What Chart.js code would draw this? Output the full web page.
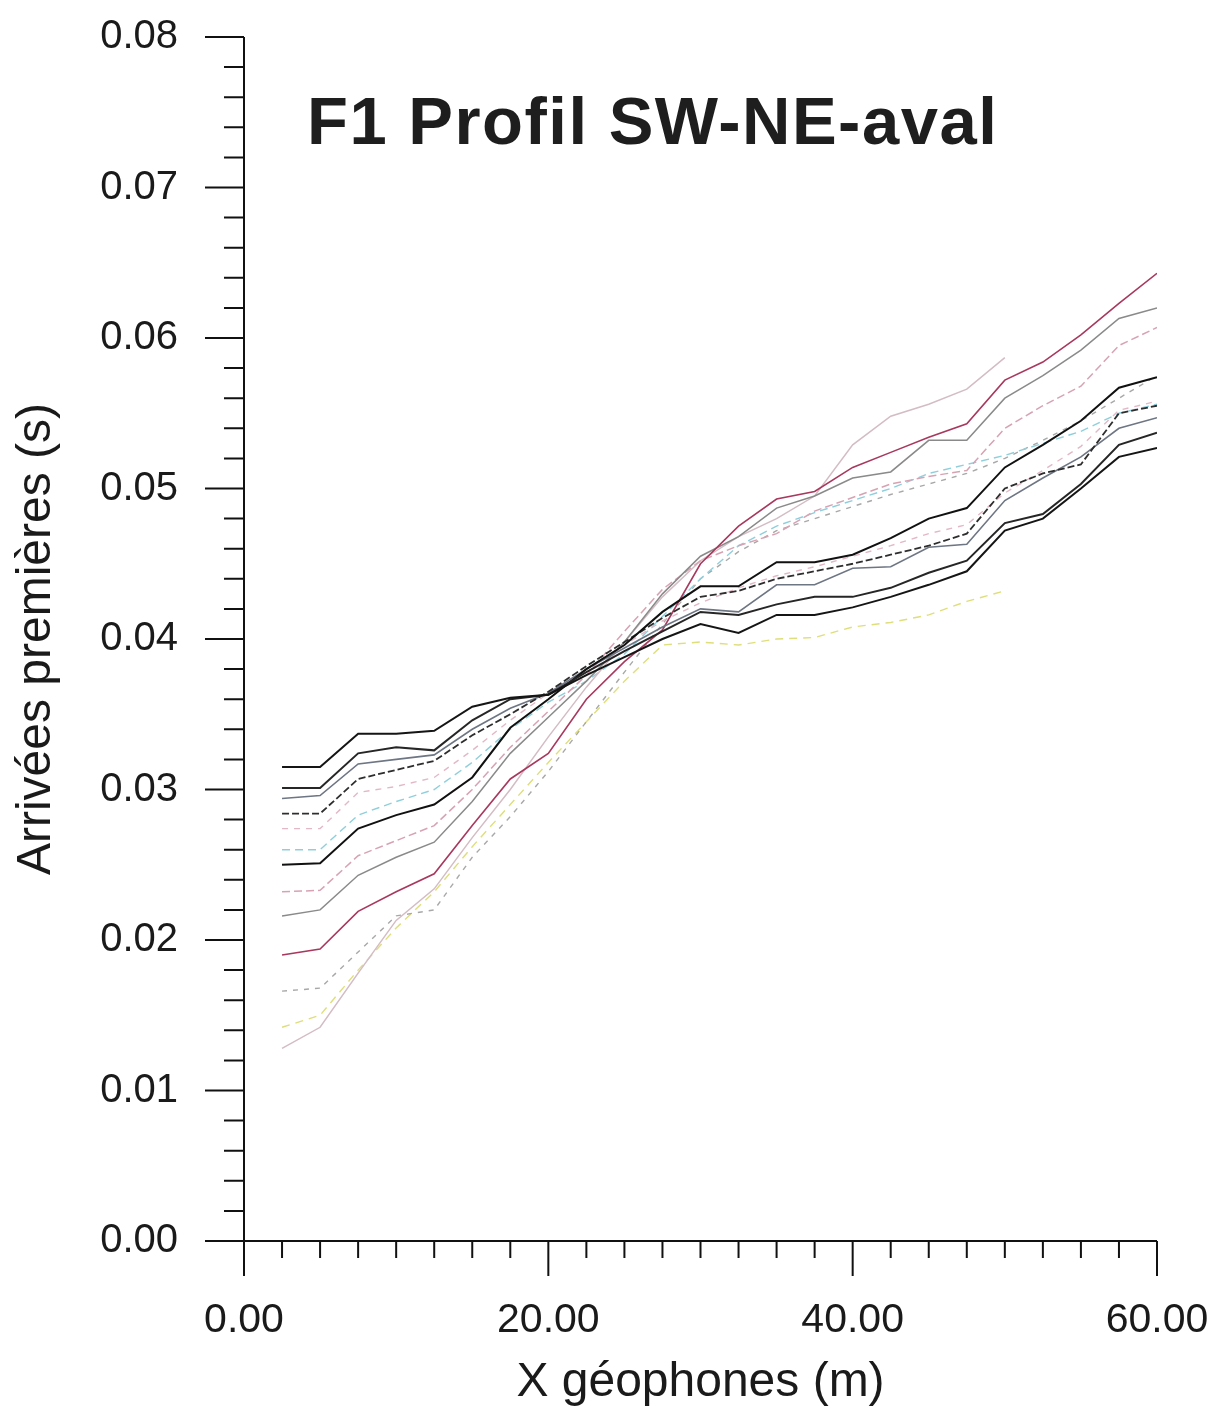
<!DOCTYPE html>
<html>
<head>
<meta charset="utf-8">
<script src="https://cdn.jsdelivr.net/npm/chart.js@4.4.1/dist/chart.umd.min.js"></script>
<style>
  html, body { margin: 0; padding: 0; background: #fff; }
  canvas { display: block; }
</style>
</head>
<body>
<canvas id="chart" width="1221" height="1414"></canvas>
<script>
// geophone positions (m)
const geophones = [2.5, 5, 7.5, 10, 12.5, 15, 17.5, 20, 22.5, 25, 27.5, 30,
                   32.5, 35, 37.5, 40, 42.5, 45, 47.5, 50, 52.5, 55, 57.5, 60];

// first arrival times (s), one array per shot
const shotA = [0.0315, 0.0315, 0.0337, 0.0337, 0.0339, 0.0355, 0.0361, 0.0363, 0.0376, 0.0388, 0.0400, 0.0410,
               0.0404, 0.0416, 0.0416, 0.0421, 0.0428, 0.0436, 0.0445, 0.0472, 0.0480, 0.0500, 0.0521, 0.0527];
const shotB = [0.0301, 0.0301, 0.0324, 0.0328, 0.0326, 0.0346, 0.0360, 0.0363, 0.0378, 0.0392, 0.0405, 0.0418,
               0.0416, 0.0423, 0.0428, 0.0428, 0.0434, 0.0444, 0.0452, 0.0477, 0.0483, 0.0503, 0.0529, 0.0537];
const shotC = [0.0294, 0.0296, 0.0317, 0.0320, 0.0323, 0.0340, 0.0354, 0.0364, 0.0380, 0.0394, 0.0408, 0.0420,
               0.0418, 0.0436, 0.0436, 0.0447, 0.0448, 0.0461, 0.0463, 0.0492, 0.0507, 0.0521, 0.0540, 0.0547];
const shotD = [0.0284, 0.0284, 0.0307, 0.0313, 0.0319, 0.0336, 0.0350, 0.0365, 0.0382, 0.0398, 0.0414, 0.0428,
               0.0432, 0.0440, 0.0445, 0.0450, 0.0456, 0.0462, 0.0470, 0.0500, 0.0510, 0.0516, 0.0550, 0.0555];
const shotE = [0.0250, 0.0251, 0.0274, 0.0283, 0.0290, 0.0308, 0.0341, 0.0360, 0.0380, 0.0396, 0.0418, 0.0435,
               0.0435, 0.0451, 0.0451, 0.0456, 0.0467, 0.0480, 0.0487, 0.0514, 0.0529, 0.0545, 0.0567, 0.0574];
const shotF = [0.0190, 0.0194, 0.0219, 0.0232, 0.0244, 0.0276, 0.0307, 0.0324, 0.0360, 0.0385, 0.0406, 0.0450,
               0.0475, 0.0493, 0.0498, 0.0514, 0.0524, 0.0534, 0.0543, 0.0572, 0.0584, 0.0602, 0.0623, 0.0643];
const shotG = [0.0216, 0.0220, 0.0243, 0.0255, 0.0265, 0.0292, 0.0324, 0.0348, 0.0372, 0.0398, 0.0430, 0.0455,
               0.0468, 0.0487, 0.0495, 0.0507, 0.0511, 0.0532, 0.0532, 0.0560, 0.0575, 0.0592, 0.0613, 0.0620];
const shotH = [0.0232, 0.0233, 0.0256, 0.0266, 0.0276, 0.0300, 0.0328, 0.0352, 0.0376, 0.0405, 0.0433, 0.0452,
               0.0462, 0.0470, 0.0485, 0.0494, 0.0503, 0.0508, 0.0512, 0.0540, 0.0555, 0.0568, 0.0595, 0.0607];
const shotI = [0.0128, 0.0142, 0.0178, 0.0213, 0.0234, 0.0268, 0.0300, 0.0335, 0.0368, 0.0398, 0.0428, 0.0452,
               0.0468, 0.0480, 0.0495, 0.0529, 0.0548, 0.0556, 0.0566, 0.0587, null, null, null, null];
const shotJ = [0.0274, 0.0274, 0.0298, 0.0302, 0.0308, 0.0326, 0.0346, 0.0364, 0.0380, 0.0396, 0.0412, 0.0424,
               0.0434, 0.0442, 0.0448, 0.0455, 0.0462, 0.0470, 0.0476, 0.0497, 0.0512, 0.0528, 0.0552, 0.0558];
const shotK = [0.0260, 0.0260, 0.0283, 0.0292, 0.0300, 0.0318, 0.0340, 0.0358, 0.0372, 0.0390, 0.0415, 0.0440,
               0.0462, 0.0475, 0.0484, 0.0492, 0.0500, 0.0510, 0.0516, 0.0522, 0.0530, 0.0538, 0.0550, 0.0556];
const shotL = [0.0166, 0.0168, 0.0192, 0.0216, 0.0220, 0.0255, 0.0282, 0.0312, 0.0345, 0.0378, 0.0410, 0.0440,
               0.0458, 0.0472, 0.0480, 0.0488, 0.0496, 0.0503, 0.0510, 0.0520, 0.0532, 0.0545, 0.0560, 0.0575];
const shotM = [0.0142, 0.0150, 0.0180, 0.0208, 0.0232, 0.0262, 0.0290, 0.0318, 0.0345, 0.0372, 0.0396, 0.0398,
               0.0396, 0.0400, 0.0401, 0.0408, 0.0411, 0.0416, 0.0425, 0.0432, null, null, null, null];

// axis labels
const xTickLabels = [0, 20, 40, 60];
const yTickLabels = [0, 0.01, 0.02, 0.03, 0.04, 0.05, 0.06, 0.07, 0.08];
const xMinorStep = 2.5;
const yMinorStep = 0.002;

function pts(arr) {
  return geophones.map((g, i) => ({ x: g, y: arr[i] }));
}

// first datasets are drawn on top
const series = [
  { data: shotA, color: '#151515', width: 2 },
  { data: shotB, color: '#262626', width: 2 },
  { data: shotE, color: '#111111', width: 2 },
  { data: shotD, color: '#2e2e2e', width: 1.8, dash: [7, 3] },
  { data: shotC, color: '#6e7684', width: 1.6 },
  { data: shotF, color: '#a8385e', width: 1.6 },
  { data: shotG, color: '#8a8a8a', width: 1.5 },
  { data: shotH, color: '#d7a3b3', width: 1.5, dash: [8, 4] },
  { data: shotI, color: '#d4bcc4', width: 1.5 },
  { data: shotJ, color: '#e3b8c6', width: 1.4, dash: [6, 6] },
  { data: shotK, color: '#8fcfdc', width: 1.4, dash: [8, 5] },
  { data: shotL, color: '#a8a8a8', width: 1.4, dash: [5, 6] },
  { data: shotM, color: '#dede7a', width: 1.4, dash: [8, 6] }
];

// axis lines, tick marks and the title
const axisDecor = {
  id: 'axisDecor',
  afterDraw(chart) {
    const { ctx, chartArea: a, scales: { x, y } } = chart;
    ctx.save();
    ctx.strokeStyle = '#111';
    ctx.lineWidth = 2;
    ctx.beginPath();
    ctx.moveTo(a.left, a.top);
    ctx.lineTo(a.left, a.bottom);
    ctx.lineTo(a.right, a.bottom);
    for (let i = 0; i * xMinorStep <= x.max + 1e-9; i++) {
      const v = i * xMinorStep;
      const px = x.getPixelForValue(v);
      const major = xTickLabels.includes(v);
      ctx.moveTo(px, a.bottom);
      ctx.lineTo(px, a.bottom + (major ? 35 : 17));
    }
    for (let i = 0; i * yMinorStep <= y.max + 1e-9; i++) {
      const py = y.getPixelForValue(i * yMinorStep);
      const major = i % 5 === 0;
      ctx.moveTo(a.left, py);
      ctx.lineTo(a.left - (major ? 39 : 20), py);
    }
    ctx.stroke();

    ctx.fillStyle = '#1e1e1e';
    ctx.font = 'bold 67px "Liberation Sans", Arial, sans-serif';
    ctx.textAlign = 'left';
    ctx.textBaseline = 'alphabetic';
    ctx.letterSpacing = '1.5px';
    ctx.fillText('F1 Profil SW-NE-aval', 307, 144);
    ctx.restore();
  }
};

new Chart(document.getElementById('chart'), {
  type: 'line',
  data: {
    datasets: series.map(s => ({
      data: pts(s.data),
      borderColor: s.color,
      borderWidth: s.width,
      borderDash: s.dash || [],
      pointRadius: 0,
      tension: 0,
      fill: false
    }))
  },
  options: {
    responsive: false,
    devicePixelRatio: 1,
    animation: false,
    layout: { padding: { top: 37, right: 64, left: 0, bottom: 0 } },
    plugins: { legend: { display: false }, tooltip: { enabled: false } },
    scales: {
      x: {
        type: 'linear',
        min: 0,
        max: 60,
        grid: { display: false },
        border: { display: false },
        afterBuildTicks: s => { s.ticks = xTickLabels.map(v => ({ value: v })); },
        afterFit: s => { s.height = 173; s.paddingLeft = 0; s.paddingRight = 0; },
        ticks: {
          maxRotation: 0,
          padding: 47,
          color: '#1a1a1a',
          font: { family: '"Liberation Sans", Arial, sans-serif', size: 41 },
          callback: v => v.toFixed(2)
        },
        title: {
          display: true,
          text: 'X géophones (m)',
          color: '#1a1a1a',
          font: { family: '"Liberation Sans", Arial, sans-serif', size: 48 },
          padding: { top: 0, bottom: 2 }
        }
      },
      y: {
        type: 'linear',
        min: 0,
        max: 0.08,
        grid: { display: false },
        border: { display: false },
        afterBuildTicks: s => { s.ticks = yTickLabels.map(v => ({ value: v })); },
        afterFit: s => { s.width = 244; s.paddingTop = 0; s.paddingBottom = 0; },
        ticks: {
          padding: 58,
          color: '#1a1a1a',
          font: { family: '"Liberation Sans", Arial, sans-serif', size: 40 },
          callback: v => v.toFixed(2)
        },
        title: {
          display: true,
          text: 'Arrivées premières (s)',
          color: '#1a1a1a',
          font: { family: '"Liberation Sans", Arial, sans-serif', size: 48 },
          padding: { top: 8, bottom: 0 }
        }
      }
    }
  },
  plugins: [axisDecor]
});
</script>
</body>
</html>
